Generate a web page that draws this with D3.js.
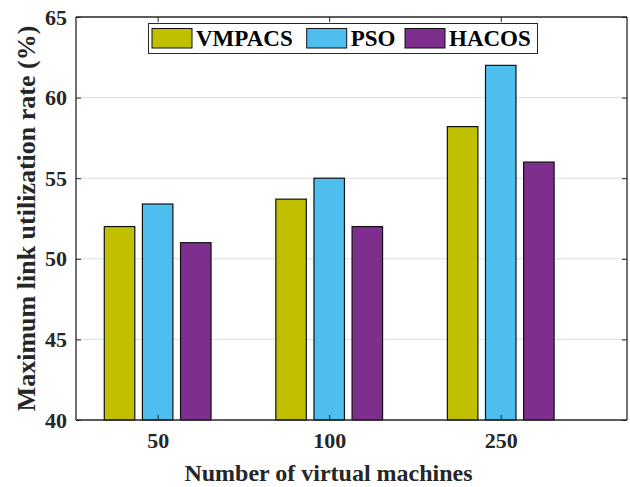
<!DOCTYPE html>
<html><head><meta charset="utf-8">
<script src="https://cdn.jsdelivr.net/npm/d3@7"></script>
<style>body{margin:0;background:#fff}svg{display:block}</style>
</head><body>
<svg id="c" width="630" height="487"></svg>
<script>
const categories = ["50", "100", "250"];
const seriesNames = ["VMPACS", "PSO", "HACOS"];
const vmpacs = [52, 53.7, 58.2];
const pso = [53.4, 55, 62];
const hacos = [51, 52, 56];
const yTicks = [40, 45, 50, 55, 60, 65];
const colors = ["#c0c000", "#4dbeee", "#7e2f8e"];
const seriesValues = [vmpacs, pso, hacos];

const svg = d3.select("#c");
const L = 76, R = 627, T = 17, B = 420;
const font = "'Liberation Serif','Times New Roman',serif";

const x = d3.scaleLinear().domain([0.524, 3.736]).range([L, R]);
const y = d3.scaleLinear().domain([40, 65]).range([B, T]);

// grid
svg.append("g").selectAll("line").data(yTicks.slice(1, -1)).join("line")
  .attr("x1", L).attr("x2", R).attr("y1", d => y(d)).attr("y2", d => y(d))
  .attr("stroke", "#dfdfdf").attr("stroke-width", 1);

// bars
const offs = [-0.2222, 0, 0.2222];
const bw = 0.1778;
seriesValues.forEach((vals, si) => {
  svg.append("g").selectAll("rect").data(vals).join("rect")
    .attr("x", (d, i) => x(i + 1 + offs[si] - bw / 2))
    .attr("width", (d, i) => x(i + 1 + bw / 2) - x(i + 1 - bw / 2))
    .attr("y", d => y(d))
    .attr("height", d => y(40) - y(d))
    .attr("fill", colors[si]).attr("stroke", "#111").attr("stroke-width", 1.2);
});

// axes box
const axisCol = "#262626";
const yAxisL = d3.axisLeft(y).tickValues(yTicks).tickSize(-5).tickPadding(9).tickFormat(d3.format("d"));
const gy = svg.append("g").attr("transform", `translate(${L},0)`).call(yAxisL);
const yAxisR = d3.axisRight(y).tickValues(yTicks).tickSize(-5).tickFormat("");
const gyr = svg.append("g").attr("transform", `translate(${R},0)`).call(yAxisR);
const xAxisB = d3.axisBottom(x).tickValues([1, 2, 3]).tickSize(-5).tickPadding(12).tickFormat((d) => categories[d - 1]);
const gx = svg.append("g").attr("transform", `translate(0,${B})`).call(xAxisB);
const xAxisT = d3.axisTop(x).tickValues([1, 2, 3]).tickSize(-5).tickFormat("");
const gxt = svg.append("g").attr("transform", `translate(0,${T})`).call(xAxisT);
[gy, gyr, gx, gxt].forEach(g => {
  g.select(".domain").attr("stroke", axisCol).attr("stroke-width", 1.3);
  g.selectAll(".tick line").attr("stroke", axisCol).attr("stroke-width", 1);
  g.selectAll("text").attr("font-family", font).attr("font-weight", "bold")
    .attr("font-size", 22).attr("fill", axisCol);
});
gy.selectAll(".domain").attr("d", `M0,${T}V${B}`);
gyr.selectAll(".domain").attr("d", `M0,${T}V${B}`);
gx.selectAll(".domain").attr("d", `M${L},0H${R}`);
gxt.selectAll(".domain").attr("d", `M${L},0H${R}`);

// axis labels
svg.append("text").attr("x", (L + R) / 2 - 23).attr("y", 481)
  .attr("text-anchor", "middle").attr("font-family", font).attr("font-weight", "bold")
  .attr("font-size", 24).attr("fill", axisCol).text("Number of virtual machines");
svg.append("text").attr("transform", `translate(35,${(T + B) / 2}) rotate(-90)`)
  .attr("text-anchor", "middle").attr("font-family", font).attr("font-weight", "bold")
  .attr("font-size", 26).attr("fill", axisCol).text("Maximum link utilization rate (%)");

// legend
const lg = svg.append("g");
lg.append("rect").attr("x", 148.5).attr("y", 23.5).attr("width", 389).attr("height", 30)
  .attr("fill", "#fff").attr("stroke", "#262626").attr("stroke-width", 1);
const legX = [152, 306.7, 405];
seriesNames.forEach((n, i) => {
  lg.append("rect").attr("x", legX[i]).attr("y", 28.5).attr("width", 40).attr("height", 19.5)
    .attr("fill", colors[i]).attr("stroke", "#111").attr("stroke-width", 1);
  lg.append("text").attr("x", legX[i] + 44).attr("y", 46)
    .attr("font-family", font).attr("font-weight", "bold").attr("font-size", 23)
    .attr("fill", "#000").text(n);
});
</script>
</body></html>
